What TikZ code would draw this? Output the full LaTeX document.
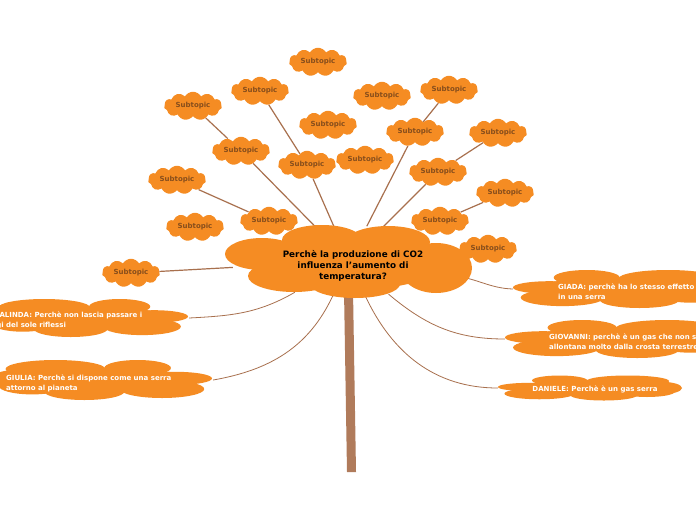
\documentclass[tikz,border=0pt]{standalone}
\usepackage{fontspec}
\setmainfont{DejaVu Sans}
\usetikzlibrary{shapes.symbols,shapes.geometric}
\definecolor{cl}{RGB}{245,140,35}
\definecolor{st}{RGB}{135,78,28}
\definecolor{ln}{RGB}{168,112,78}
\definecolor{tr}{RGB}{176,123,91}
\pgfdeclarelayer{bg}
\pgfdeclarelayer{paper}
\pgfsetlayers{paper,bg,main}
\begin{document}
\begin{tikzpicture}[x=1pt,y=1pt,
  subcloud/.style={cloud, cloud puffs=11, cloud puff arc=120, aspect=2.3, fill=cl, draw=none,
    minimum width=58pt, minimum height=26pt, inner sep=0pt,
    font=\bfseries\fontsize{7}{8}\selectfont, text=st},
  anchorbox/.style={draw=none, fill=none, inner sep=0pt},
  maintext/.style={font=\bfseries\fontsize{8.8}{11}\selectfont, text=black, align=center},
  anstext/.style={font=\bfseries\fontsize{7}{10}\selectfont, text=white, align=left, anchor=west, inner sep=0pt},
  conn/.style={draw=ln, line width=1.2pt},
  aconn/.style={draw=ln, line width=0.8pt},
  anscl/.pic={
    \fill[cl] (0,0) ellipse [x radius=0.9, y radius=0.55];
    \fill[cl] (-0.41,0.55) ellipse [x radius=0.45, y radius=0.45];
    \fill[cl] (0.33,0.6) ellipse [x radius=0.3, y radius=0.4];
    \fill[cl] (0.67,0.08) ellipse [x radius=0.33, y radius=0.33];
    \fill[cl] (-0.15,-0.58) ellipse [x radius=0.36, y radius=0.42];
    \fill[cl] (0.55,-0.45) ellipse [x radius=0.38, y radius=0.45];
    \fill[cl] (-0.77,0) ellipse [x radius=0.23, y radius=0.5];
    \fill[cl] (-0.62,-0.3) ellipse [x radius=0.3, y radius=0.42];
  },
]
\useasboundingbox (0,0) rectangle (696,-520);
\begin{pgfonlayer}{paper}
\fill[white] (0,0) rectangle (696,-520);
\end{pgfonlayer}

% main cloud
\fill[cl] (349,-262) ellipse [x radius=95, y radius=28];
\fill[cl] (262,-254) ellipse [x radius=37, y radius=16];
\fill[cl] (322,-240) ellipse [x radius=40, y radius=15];
\fill[cl] (388,-242) ellipse [x radius=42, y radius=16];
\fill[cl] (436,-268) ellipse [x radius=36, y radius=25];
\fill[cl] (294,-276) ellipse [x radius=46, y radius=16];
\fill[cl] (355,-284) ellipse [x radius=45, y radius=14];
\node[ellipse, anchorbox, minimum width=236pt, minimum height=70pt] (main) at (349,-261) {};
\node[maintext] (maint) at (353,-266) {Perchè la produzione di CO2\\influenza l'aumento di\\temperatura?};

% subtopics
\node[subcloud] (s1) at (318,-62) {Subtopic};
\node[subcloud] (s2) at (193,-106) {Subtopic};
\node[subcloud] (s3) at (260,-91) {Subtopic};
\node[subcloud] (s4) at (382,-96) {Subtopic};
\node[subcloud] (s5) at (449,-90) {Subtopic};
\node[subcloud] (s6) at (328,-125) {Subtopic};
\node[subcloud] (s7) at (241,-151) {Subtopic};
\node[subcloud] (s8) at (415,-132) {Subtopic};
\node[subcloud] (s9) at (498,-133) {Subtopic};
\node[subcloud] (s10) at (307,-165) {Subtopic};
\node[subcloud] (s11) at (365,-160) {Subtopic};
\node[subcloud] (s12) at (438,-172) {Subtopic};
\node[subcloud] (s13) at (177,-180) {Subtopic};
\node[subcloud] (s14) at (505,-193) {Subtopic};
\node[subcloud] (s15) at (195,-227) {Subtopic};
\node[subcloud] (s16) at (269,-221) {Subtopic};
\node[subcloud] (s17) at (440,-221) {Subtopic};
\node[subcloud] (s18) at (488,-249) {Subtopic};
\node[subcloud] (s19) at (131,-273) {Subtopic};

% answer clouds
\pic[xscale=102, yscale=19] at (86,-318) {anscl};
\node[anchorbox, minimum width=206pt, minimum height=36pt] (ros) at (86,-318) {};
\node[anstext] (rost) at (-17,-320) {ROSALINDA: Perchè non lascia passare i\\raggi del sole riflessi};

\pic[xscale=111, yscale=20] at (101,-380) {anscl};
\node[anchorbox, minimum width=224pt, minimum height=36pt] (giu) at (101,-380) {};
\node[anstext] (giut) at (6,-383) {GIULIA: Perchè si dispone come una serra\\attorno al pianeta};

\pic[xscale=-110, yscale=19] at (623,-289) {anscl};
\node[anchorbox, minimum width=220pt, minimum height=36pt] (gia) at (623,-289) {};
\node[anstext] (giat) at (558,-292) {GIADA: perchè ha lo stesso effetto\\in una serra};

\pic[xscale=-115, yscale=19] at (620,-339) {anscl};
\node[anchorbox, minimum width=230pt, minimum height=36pt] (gio) at (620,-339) {};
\node[anstext] (giot) at (549,-342) {GIOVANNI: perchè è un gas che non si\\allontana molto dalla crosta terrestre};

\pic[xscale=-92, yscale=12.5] at (590,-388) {anscl};
\node[anchorbox, minimum width=184pt, minimum height=22pt] (dan) at (590,-388) {};
\node[anstext, anchor=center] (dant) at (595,-389) {DANIELE: Perchè è un gas serra};

% connectors and trunk behind
\begin{pgfonlayer}{bg}
\fill[tr] (344,-290) -- (353,-290) -- (356,-472) -- (347,-472) -- cycle;
\path[conn] (s2) -- (s7);
\path[conn] (s7) -- (main);
\path[conn] (s3) -- (s10);
\path[conn] (s10) -- (main);
\path[conn] (s13) -- (s16);
\path[conn] (s19) -- (main);
\path[conn] (s5) -- (s8);
\path[conn] (s8) -- (main);
\path[conn] (s9) -- (s12);
\path[conn] (s12) -- (main);
\path[conn] (s14) -- (s17);
\path[aconn] (ros.east) to[out=3, in=-150] (main);
\path[aconn] (giu.east) to[out=10, in=-115] (main);
\path[aconn] (main) to[out=-8, in=178] (gia.west);
\path[aconn] (main) to[out=-40, in=180] (gio.west);
\path[aconn] (main) to[out=-65, in=180] (dan.west);
\end{pgfonlayer}
\end{tikzpicture}
\end{document}
